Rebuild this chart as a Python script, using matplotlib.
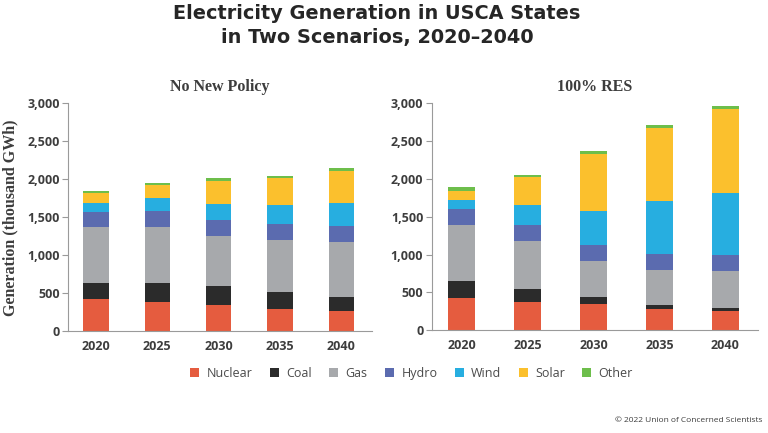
import numpy as np
import matplotlib.pyplot as plt
from matplotlib.patches import Patch

years = ["2020", "2025", "2030", "2035", "2040"]
sources = ["Nuclear", "Coal", "Gas", "Hydro", "Wind", "Solar", "Other"]
colors = ["#E55C3F", "#2B2B2B", "#A7A9AC", "#5B6BAF", "#27AEE0", "#FBC02D", "#6DBE4B"]

# thousand GWh
no_new_policy = {
    "Nuclear": [425, 382, 346, 289, 272],
    "Coal":    [211, 254, 246, 224, 184],
    "Gas":     [737, 737, 658, 689, 719],
    "Hydro":   [197, 215, 215, 215, 215],
    "Wind":    [123, 171, 215, 245, 303],
    "Solar":   [127, 166, 294, 356, 421],
    "Other":   [31, 31, 48, 30, 31],
}
res_100 = {
    "Nuclear": [422, 378, 348, 286, 260],
    "Coal":    [229, 167, 88, 48, 35],
    "Gas":     [739, 630, 483, 467, 488],
    "Hydro":   [207, 215, 207, 206, 211],
    "Wind":    [123, 268, 453, 700, 814],
    "Solar":   [123, 361, 744, 968, 1113],
    "Other":   [44, 31, 48, 30, 35],
}

fig = plt.figure(figsize=(7.68, 4.33), dpi=100)
fig.patch.set_facecolor("white")

ax1 = fig.add_axes([0.0885, 0.2349, 0.396, 0.5266])
ax2 = fig.add_axes([0.562, 0.2372, 0.4245, 0.5248])

TXT = "#3d3d3d"


def draw(ax, data, title, width, xlim):
    x = np.arange(len(years))
    bottom = np.zeros(len(years))
    for s, c in zip(sources, colors):
        vals = np.array(data[s], dtype=float)
        ax.bar(x, vals, width, bottom=bottom, color=c, linewidth=0)
        bottom += vals
    ax.set_xlim(*xlim)
    ax.set_ylim(0, 3000)
    ax.set_yticks(np.arange(0, 3001, 500))
    ax.set_yticklabels([f"{v:,}" for v in range(0, 3001, 500)])
    ax.set_xticks(x)
    ax.set_xticklabels(years)
    for sp in ["top", "right"]:
        ax.spines[sp].set_visible(False)
    for sp in ["left", "bottom"]:
        ax.spines[sp].set_color("#9a9a9a")
        ax.spines[sp].set_linewidth(0.8)
    ax.tick_params(axis="y", length=4, width=0.8, color="#9a9a9a", pad=2,
                   labelsize=9, labelcolor=TXT)
    ax.tick_params(axis="x", length=0, pad=6, labelsize=9, labelcolor=TXT)
    for lab in ax.get_xticklabels() + ax.get_yticklabels():
        lab.set_fontweight("bold")
        lab.set_family("Open Sans")
    ax.set_title(title, family="Liberation Serif", fontweight="bold", fontsize=11.5,
                 color=TXT, pad=9)


draw(ax1, no_new_policy, "No New Policy", 0.41, (-0.456, 4.5))
draw(ax2, res_100, "100% RES", 0.405, (-0.455, 4.49))

ax1.set_ylabel("Generation (thousand GWh)", family="Liberation Serif", fontweight="bold",
               fontsize=11.5, color=TXT, labelpad=6)

fig.text(377 / 768, 1 - 19 / 433, "Electricity Generation in USCA States", ha="center",
         va="baseline", family="DejaVu Sans", fontweight="bold", fontsize=13.9, color="#262626")
fig.text(377 / 768, 1 - 43 / 433, "in Two Scenarios, 2020\u20132040", ha="center",
         va="baseline", family="DejaVu Sans", fontweight="bold", fontsize=13.9, color="#262626")

handles = [Patch(facecolor=c, edgecolor="none") for c in colors]
fig.legend(handles, sources, loc="center", bbox_to_anchor=(0.536, 0.138), ncol=7,
           frameon=False, prop={"family": "Open Sans", "size": 9}, labelcolor="#4a4a4a",
           handlelength=0.7, handleheight=0.7, handletextpad=0.6, columnspacing=1.4)

fig.text(0.993, 0.02, "\u00a9 2022 Union of Concerned Scientists", ha="right", va="bottom",
         family="Open Sans", fontsize=6, color=TXT)

fig.savefig("out.png", dpi=100)
